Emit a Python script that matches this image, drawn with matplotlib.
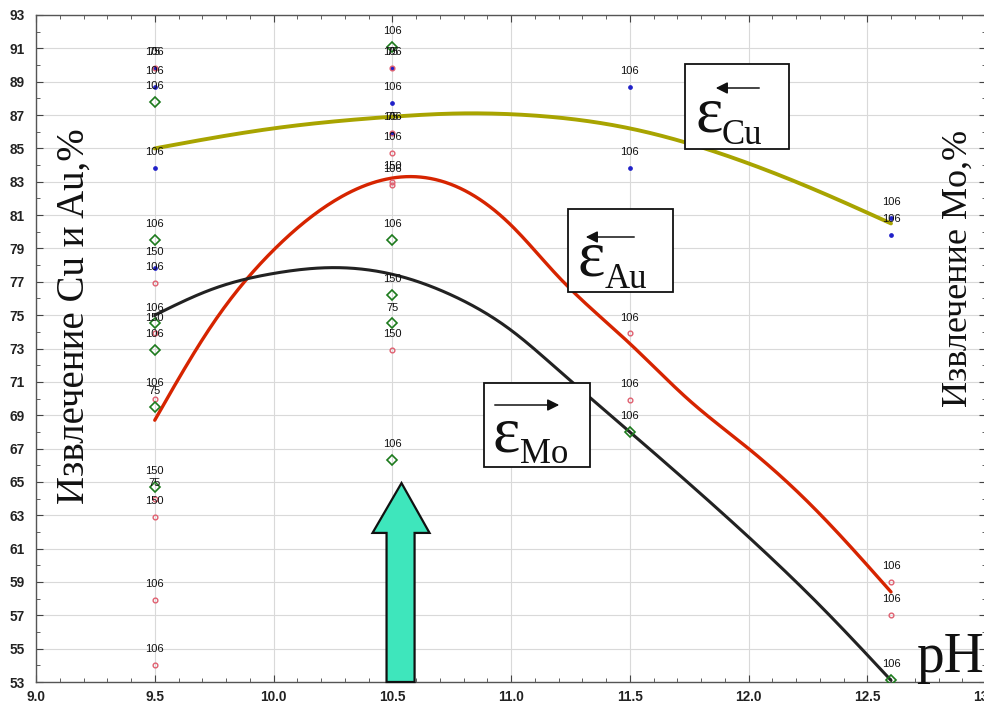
import numpy as np
import matplotlib
matplotlib.use("Agg")
import matplotlib.pyplot as plt
from matplotlib.patches import Rectangle, Polygon, FancyArrowPatch
from matplotlib.ticker import MultipleLocator

# ---- measured recoveries (%), labelled by reagent dose ----
cu_x = [9.5, 9.5, 9.5, 9.5, 10.5, 10.5, 10.5, 11.5, 11.5, 12.6, 12.6]
cu_y = [89.8, 88.7, 83.8, 77.8, 89.8, 87.7, 85.9, 88.7, 83.8, 80.8, 79.8]
cu_lab = ["75", "106", "106", "150", "75", "106", "75", "106", "106", "106", "106"]

au_x = [9.5, 9.5, 9.5, 9.5, 9.5, 9.5, 9.5, 9.5,
        10.5, 10.5, 10.5, 10.5, 10.5, 10.5, 11.5, 11.5, 12.6, 12.6]
au_y = [89.8, 76.9, 73.9, 70.0, 64.0, 62.9, 57.9, 54.0,
        89.8, 85.9, 84.7, 82.8, 83.0, 72.9, 73.9, 69.9, 59.0, 57.0]
au_lab = ["106", "106", "150", "106", "75", "150", "106", "106",
          "106", "106", "106", "106", "150", "150", "106", "106", "106", "106"]

mo_x = [9.5, 9.5, 9.5, 9.5, 9.5, 9.5, 10.5, 10.5, 10.5, 10.5, 10.5, 11.5, 12.6]
mo_y = [87.8, 79.5, 74.5, 72.9, 69.5, 64.7, 91.1, 79.5, 76.2, 74.5, 66.3, 68.0, 53.1]
mo_lab = ["106", "106", "106", "106", "75", "150", "106", "106", "150", "75", "106", "106", "106"]

# ---- smoothed trend curves (pH, recovery %) ----
cu_fit_x = [9.5, 10.0, 10.5, 10.8, 11.0, 11.5, 12.0, 12.3, 12.6]
cu_fit_y = [85.0, 86.2, 86.9, 87.1, 87.05, 86.2, 84.1, 82.4, 80.5]

au_fit_x = [9.5, 9.75, 10.0, 10.25, 10.6, 11.0, 11.2, 11.5, 11.75, 12.0, 12.25, 12.6]
au_fit_y = [68.7, 74.6, 78.9, 81.8, 83.3, 80.4, 77.3, 73.3, 69.9, 67.0, 63.8, 58.4]

mo_fit_x = [9.5, 9.75, 10.0, 10.25, 10.5, 10.75, 11.0, 11.2, 11.5, 12.0, 12.3, 12.6]
mo_fit_y = [75.0, 76.6, 77.5, 77.85, 77.45, 76.2, 74.1, 71.7, 68.0, 61.7, 57.6, 53.1]

x_ticks = [9.0, 9.5, 10.0, 10.5, 11.0, 11.5, 12.0, 12.5, 13.0]
y_ticks = list(range(53, 94, 2))


def natural_spline(xk, yk, xs):
    xk = np.asarray(xk, float)
    yk = np.asarray(yk, float)
    n = len(xk)
    h = np.diff(xk)
    A = np.zeros((n, n))
    r = np.zeros(n)
    A[0, 0] = A[-1, -1] = 1.0
    for i in range(1, n - 1):
        A[i, i - 1] = h[i - 1]
        A[i, i] = 2 * (h[i - 1] + h[i])
        A[i, i + 1] = h[i]
        r[i] = 6 * ((yk[i + 1] - yk[i]) / h[i] - (yk[i] - yk[i - 1]) / h[i - 1])
    M = np.linalg.solve(A, r)
    idx = np.clip(np.searchsorted(xk, xs) - 1, 0, n - 2)
    x0, x1 = xk[idx], xk[idx + 1]
    hh = x1 - x0
    t0, t1 = x1 - xs, xs - x0
    return (M[idx] * t0 ** 3 / (6 * hh) + M[idx + 1] * t1 ** 3 / (6 * hh)
            + (yk[idx] / hh - M[idx] * hh / 6) * t0
            + (yk[idx + 1] / hh - M[idx + 1] * hh / 6) * t1)


W, H = 984, 705
fig = plt.figure(figsize=(W / 100, H / 100), dpi=100)
fig.patch.set_facecolor("white")


def fx(px):
    return px / W


def fy(py):
    return 1 - py / H


ax = fig.add_axes([fx(36), fy(682), fx(986) - fx(36), fy(15) - fy(682)])
ax.set_xlim(9.0, 13.0)
ax.set_ylim(53, 93)
ax.set_xticks(x_ticks)
ax.set_xticklabels([f"{v:.1f}" for v in x_ticks])
ax.set_yticks(y_ticks)
ax.xaxis.set_minor_locator(MultipleLocator(0.1))
ax.yaxis.set_minor_locator(MultipleLocator(1))
ax.tick_params(which="both", direction="in", top=True, right=True, color="#444444")
ax.tick_params(which="major", length=5, width=0.8)
ax.tick_params(which="minor", length=3, width=0.6)
ax.tick_params(axis="x", pad=6)
ax.tick_params(axis="y", pad=8)
for lab in ax.get_xticklabels() + ax.get_yticklabels():
    lab.set_fontfamily("Liberation Sans")
    lab.set_fontweight("bold")
    lab.set_fontsize(9.8)
    lab.set_color("#222222")
ax.grid(True, which="major", color="#d9d9d9", linewidth=0.8)
ax.set_axisbelow(True)
for s in ax.spines.values():
    s.set_color("#555555")
    s.set_linewidth(1.0)

# trend curves
xs_cu = np.linspace(cu_fit_x[0], cu_fit_x[-1], 300)
xs_au = np.linspace(au_fit_x[0], au_fit_x[-1], 300)
xs_mo = np.linspace(mo_fit_x[0], mo_fit_x[-1], 300)
ax.plot(xs_cu, natural_spline(cu_fit_x, cu_fit_y, xs_cu), color="#a8a400", lw=2.8, zorder=3,
        solid_capstyle="round")
ax.plot(xs_au, natural_spline(au_fit_x, au_fit_y, xs_au), color="#d62400", lw=2.4, zorder=3,
        solid_capstyle="round")
ax.plot(xs_mo, natural_spline(mo_fit_x, mo_fit_y, xs_mo), color="#222222", lw=2.2, zorder=3,
        solid_capstyle="round")

# measured points
ax.plot(cu_x, cu_y, "o", ms=2.4, color="#2020c8", zorder=4)
ax.plot(au_x, au_y, "o", ms=3.4, mfc="none", mec="#e06070", mew=1.0, zorder=4)
ax.plot(mo_x, mo_y, "D", ms=5.5, mfc="none", mec="#1c7a1c", mew=1.2, zorder=4)

for xs, ys, labs in ((cu_x, cu_y, cu_lab), (au_x, au_y, au_lab), (mo_x, mo_y, mo_lab)):
    for xv, yv, lb in zip(xs, ys, labs):
        ax.annotate(lb, (xv, yv), xytext=(0, 11.5), textcoords="offset points",
                    ha="center", va="center", fontsize=8, family="Liberation Sans",
                    color="#111111", zorder=6)

# optimum pH arrow
arrow_pts = [(10.476, 53.0), (10.476, 61.94), (10.417, 61.94), (10.539, 64.93),
             (10.657, 61.94), (10.594, 61.94), (10.594, 53.0)]
ax.add_patch(Polygon(arrow_pts, closed=True, facecolor="#3ee6bc", edgecolor="#111111",
                     lw=1.6, zorder=5, clip_on=False))

# boxed legends with direction arrows
serif = "Liberation Serif"


def legend_box(x0, y0, x1, y1, ax0, ax1, ay, eps_x, eps_y, sub, sub_x, sub_y):
    fig.add_artist(Rectangle((fx(x0), fy(y1)), fx(x1) - fx(x0), fy(y0) - fy(y1),
                             facecolor="white", edgecolor="#111111", lw=1.3,
                             transform=fig.transFigure, zorder=7))
    fig.add_artist(FancyArrowPatch(
        (fx(ax0), fy(ay)), (fx(ax1), fy(ay)), transform=fig.transFigure,
        arrowstyle="-|>,head_length=7,head_width=3.5", color="#111111", lw=1.1,
        mutation_scale=1, zorder=8))
    fig.text(fx(eps_x), fy(eps_y), "ε", family=serif, fontsize=47, ha="left",
             va="baseline", color="#111111", zorder=8)
    fig.text(fx(sub_x), fy(sub_y), sub, family=serif, fontsize=25, ha="left",
             va="baseline", color="#111111", zorder=8)


legend_box(685, 64, 789, 149, 762, 713, 88, 695, 131, "Cu", 722, 144)
legend_box(568, 209, 673, 292, 637, 583, 237, 578, 275, "Au", 605, 288)
legend_box(484, 383, 590, 467, 492, 562, 405, 493, 451, "Mo", 520, 463)

fig.text(fx(916), fy(672), "pH", family=serif, fontsize=40, ha="left", va="baseline",
         color="#111111", zorder=8)

fig.text(fx(74), fy(316), "Извлечение Cu и Au,%", family=serif, fontsize=28,
         rotation=90, ha="center", va="center", color="#111111")
fig.text(fx(958), fy(268), "Извлечение Mo,%", family=serif, fontsize=26,
         rotation=90, ha="center", va="center", color="#111111")

fig.savefig("out.png", dpi=100, facecolor="white")
